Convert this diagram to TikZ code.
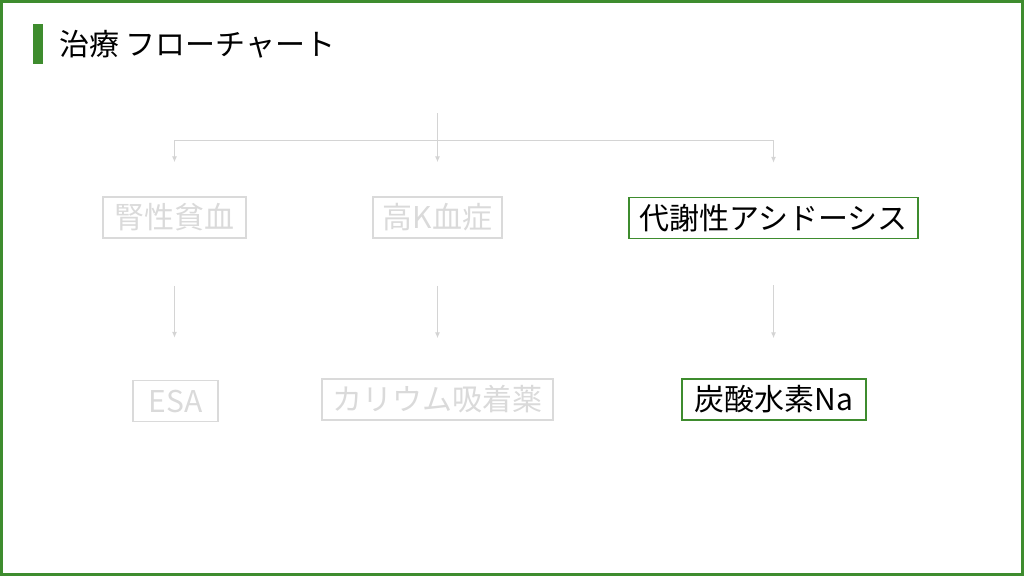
\documentclass[tikz,border=0pt]{standalone}
\usepackage{fontspec}
\setmainfont{Noto Sans CJK JP}
\usepackage{tikz}
\usetikzlibrary{arrows.meta}

\definecolor{frame}{HTML}{3E8C2E}
\definecolor{faint}{HTML}{DADADA}
\definecolor{faintline}{HTML}{D4D4D4}

\tikzset{
	box/.style={draw=faint, line width=1.5pt, text=faint, minimum height=41pt, inner sep=0pt, font=\fontsize{30}{33}\selectfont},
	hot/.style={box, draw=frame, text=black},
	link/.style={draw=faintline, line width=1pt},
	arr/.style={link, -{Latex[length=6pt,width=5pt]}}
}

\begin{document}
\begin{tikzpicture}[x=1pt,y=-1pt]
		\useasboundingbox (0,0) rectangle (1024,576);
		\draw[frame, line width=3pt] (1.5,1.5) rectangle (1022.5,574.5);
		\fill[frame] (33,24) rectangle (43,64);
		\node[anchor=west, inner sep=0pt, font=\fontsize{30}{33}\selectfont] (title) at (59,44) {治療 フローチャート};
		\node[box, minimum width=143pt] (anemia) at (174.5,217.5) {腎性貧血};
		\node[box, minimum width=129pt] (hyperk) at (437.5,217.5) {高K血症};
		\node[hot, minimum width=289pt] (acidosis) at (773.5,218) {代謝性アシドーシス};
		\node[box, minimum width=85pt] (esa) at (175.5,401) {ESA};
		\node[box, minimum width=231pt] (binder) at (437.5,399.5) {カリウム吸着薬};
		\node[hot, minimum width=184pt] (bicarb) at (774,399.5) {炭酸水素Na};
		\coordinate (top) at (437.5,113);
		\coordinate (bus) at (437.5,140);
		\draw[link] (top) -- (bus);
		\draw[arr, shorten >=34pt] (bus) -| (anemia.north);
		\draw[arr, shorten >=34pt] (bus) -- (hyperk.north);
		\draw[arr, shorten >=34pt] (bus) -| (acidosis.north);
		\draw[arr, shorten <=47pt, shorten >=42pt] (anemia.south) -- (anemia.south |- esa.north);
		\draw[arr, shorten <=47pt, shorten >=40pt] (hyperk.south) -- (binder.north);
		\draw[arr, shorten <=46pt, shorten >=40pt] (acidosis.south) -- (acidosis.south |- bicarb.north);
	\end{tikzpicture}
\end{document}
